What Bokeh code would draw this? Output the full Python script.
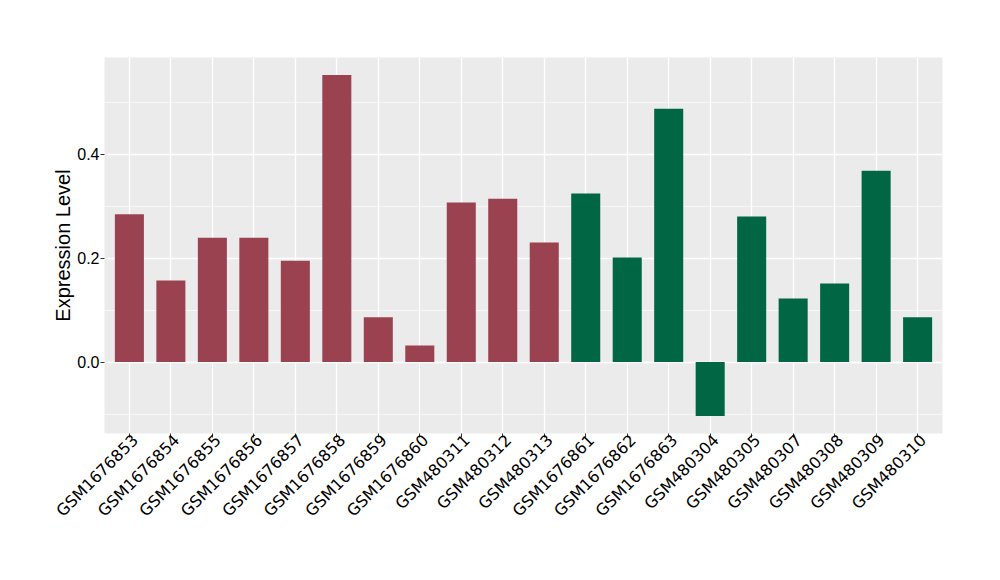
import math
from bokeh.plotting import figure
from bokeh.models import ColumnDataSource, FixedTicker, Range1d, LinearAxis
from bokeh.embed import file_html
from bokeh.resources import INLINE

samples = ["GSM1676853", "GSM1676854", "GSM1676855", "GSM1676856", "GSM1676857",
           "GSM1676858", "GSM1676859", "GSM1676860", "GSM480311", "GSM480312",
           "GSM480313", "GSM1676861", "GSM1676862", "GSM1676863", "GSM480304",
           "GSM480305", "GSM480307", "GSM480308", "GSM480309", "GSM480310"]
values = [0.284, 0.157, 0.239, 0.239, 0.195,
          0.552, 0.086, 0.032, 0.307, 0.314,
          0.230, 0.324, 0.201, 0.487, -0.104,
          0.280, 0.122, 0.151, 0.368, 0.086]
groups = ["A"] * 11 + ["B"] * 9
group_colors = {"A": "#9A4250", "B": "#006644"}

y_ticks = [0.0, 0.2, 0.4]
y_minor = [-0.1, 0.1, 0.3, 0.5]

xs = list(range(1, len(samples) + 1))
src = ColumnDataSource(dict(
    x=xs,
    top=[max(v, 0) for v in values],
    bottom=[min(v, 0) for v in values],
    color=[group_colors[g] for g in groups],
))

x_lo, x_hi = 0.4, len(samples) + 0.6
p = figure(width=984, height=564, output_backend="svg", toolbar_location=None,
           x_range=Range1d(x_lo, x_hi), y_range=Range1d(-0.1375, 0.5857),
           min_border_left=104, min_border_right=42, min_border_top=57, min_border_bottom=131)
p.background_fill_color = "#EBEBEB"
p.border_fill_color = "white"
p.outline_line_color = None

p.vbar(x="x", width=0.7, top="top", bottom="bottom", fill_color="color",
       line_color=None, source=src)

# x axis: tick marks only
p.xaxis.ticker = FixedTicker(ticks=xs)
p.xaxis.major_label_overrides = {i: "" for i in xs}
p.xaxis.major_label_standoff = 0

# x axis labels, nudged to match ggplot's rotated-label anchoring
shift = 0.14
p.extra_x_ranges = {"lab": Range1d(x_lo - shift, x_hi - shift)}
lab_axis = LinearAxis(x_range_name="lab", ticker=FixedTicker(ticks=xs))
lab_axis.major_label_overrides = {i: s for i, s in zip(xs, samples)}
lab_axis.major_label_orientation = math.pi / 4
lab_axis.major_label_text_font = "DejaVu Sans"
lab_axis.major_label_text_font_size = "16px"
lab_axis.major_label_text_color = "black"
lab_axis.major_label_standoff = 0
lab_axis.major_tick_line_color = None
lab_axis.major_tick_out = 0
lab_axis.major_tick_in = 0
lab_axis.minor_tick_line_color = None
lab_axis.axis_line_color = None
p.add_layout(lab_axis, "below")

# y axis
p.yaxis.ticker = FixedTicker(ticks=y_ticks, minor_ticks=y_minor)
p.yaxis.major_label_overrides = {t: f"{t:.1f}" for t in y_ticks}
p.yaxis.major_label_text_font = "Liberation Sans"
p.yaxis.major_label_text_font_size = "16px"
p.yaxis.major_label_text_color = "black"
p.yaxis.axis_label = "Expression Level"
p.yaxis.axis_label_text_font = "Liberation Sans"
p.yaxis.axis_label_text_font_size = "20px"
p.yaxis.axis_label_text_font_style = "normal"
p.yaxis.axis_label_text_color = "black"
p.yaxis.axis_label_standoff = 0
p.yaxis.major_label_standoff = 1

for ax in (p.xaxis[0], p.yaxis[0]):
    ax.axis_line_color = None
    ax.major_tick_line_color = "#333333"
    ax.major_tick_out = 4
    ax.major_tick_in = 0
    ax.minor_tick_line_color = None

p.xgrid.grid_line_color = "white"
p.xgrid.grid_line_width = 1.3
p.ygrid.grid_line_color = "white"
p.ygrid.grid_line_width = 1.3
p.ygrid.minor_grid_line_color = "white"
p.ygrid.minor_grid_line_width = 0.6

open("out.html", "w").write(file_html(p, INLINE))
